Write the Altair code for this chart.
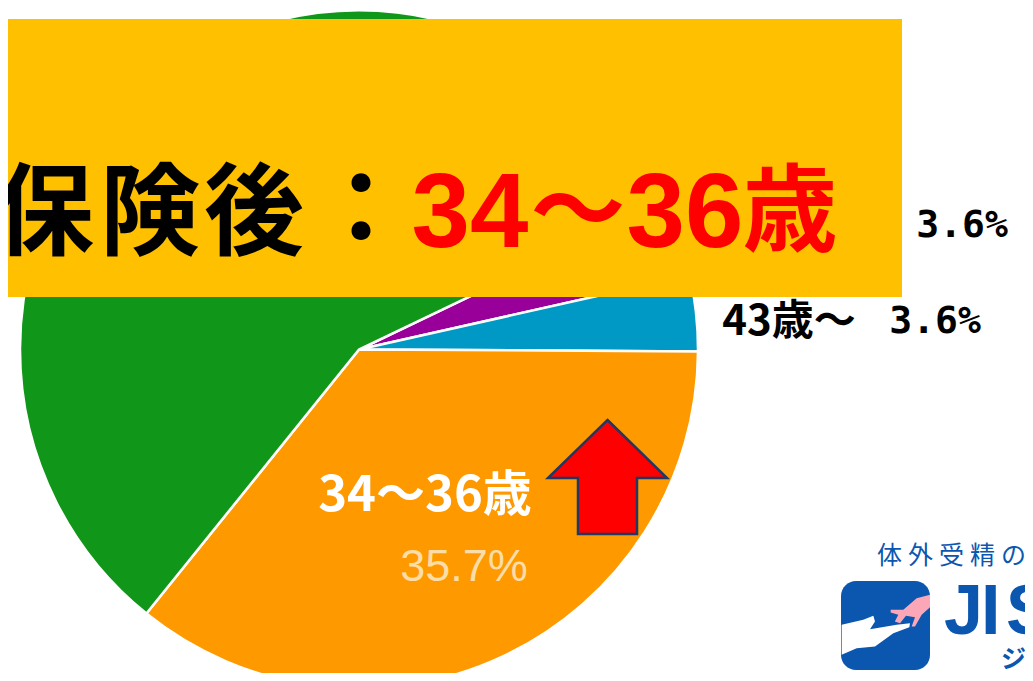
import math
import altair as alt
import pandas as pd

ages = ["39-42", "43+", "34-36", "other"]
shares = [3.6, 3.6, 35.7, 57.1]
colors = ["#990099", "#0099C6", "#FF9900", "#109618"]
order_idx = [0, 1, 2, 3]
logo_caption = ["体", "外", "受", "精", "の"]

W, H = 1017, 665
OX, OY = 8, 8  # page margin
START = 64.4 * math.pi / 180

one = pd.DataFrame({"a": [0]})


def px(v):
    return alt.value(v - OX)


def py(v):
    return alt.value(v - OY)


def txt(s, x, y, size, color, font="Noto Sans CJK JP", weight="bold", align="center"):
    return alt.Chart(one).mark_text(
        text=s, fontSize=size, color=color, font=font, fontWeight=weight,
        align=align, baseline="middle"
    ).encode(x=px(x), y=py(y))


def shape(path, x, y, size, fill, stroke=None, sw=0):
    args = dict(shape=path, size=size, fill=fill, filled=True, opacity=1, strokeWidth=sw)
    if stroke:
        args["stroke"] = stroke
    return alt.Chart(one).mark_point(**args).encode(x=px(x), y=py(y))


df = pd.DataFrame({"age": ages, "share": shares, "idx": order_idx})

pie = alt.Chart(df).mark_arc(outerRadius=339, stroke="white", strokeWidth=2.5).encode(
    theta=alt.Theta("share:Q", stack=True,
                    scale=alt.Scale(domain=[0, 100], range=[START, START + 2 * math.pi])),
    color=alt.Color("age:N", scale=alt.Scale(domain=ages, range=colors), legend=None),
    order=alt.Order("idx:Q"),
    x=px(359), y=py(349.5),
)

banner = alt.Chart(one).mark_rect(color="#FFC000").encode(
    x=px(0), x2=px(902), y=py(19), y2=py(297))

ARROW = "M0,-0.958 L1,0.017 L0.496,0.017 L0.496,0.958 L-0.496,0.958 L-0.496,0.017 L-1,0.017 Z"
WHITE = ("M-0.985,-0.015 L-0.5,-0.127 L-0.273,-0.217 L-0.236,-0.09 L-0.348,0.082 L0.25,-0.015 "
         "L0.55,-0.052 L0.536,0.037 L0.176,0.172 L-0.236,0.472 L-0.648,0.509 L-0.985,0.659 Z")
PINK = ("M1,-0.689 L0.7,-0.614 L0.4,-0.352 L0.116,-0.352 L0.116,-0.292 L0.288,-0.24 L0.21,-0.09 "
        "L0.326,-0.052 L0.46,-0.217 L0.663,-0.187 L0.588,0.022 L0.663,0.022 L0.813,-0.24 L1,-0.412 Z")
BLUE = "#0B57B0"
DIGITS = "Liberation Sans"
MONO = "DejaVu Sans Mono"

logo_box = alt.Chart(one).mark_rect(color=BLUE, cornerRadius=15).encode(
    x=px(841), x2=px(930), y=py(581), y2=py(670))

layers = [
    pie,
    banner,
    txt("保", 44, 217, 100, "black"),
    txt("険", 150, 217, 100, "black"),
    txt("後", 254, 217, 100, "black"),
    txt("：", 361, 214, 100, "black"),
    txt("34", 470, 215, 105, "#FF0000", font=DIGITS),
    txt("〜", 578, 215, 95, "#FF0000"),
    txt("36", 685, 215, 105, "#FF0000", font=DIGITS),
    txt("歳", 790, 215, 95, "#FF0000"),
    txt("3.6%", 962, 226, 38, "black", font=MONO),
    txt("43歳〜", 789, 322, 42, "black"),
    txt("3.6%", 935, 322, 38, "black", font=MONO),
    txt("34〜36歳", 425, 496, 49, "white"),
    txt("35.7%", 464, 567, 45, "#FCDDA8", font="Liberation Sans", weight="normal"),
    shape(ARROW, 607.5, 477, 14161, "#FF0000", "#1F3864", 2.5),
]
layers += [
    txt(ch, 877 + 31 * i, 556, 25, BLUE, weight="normal", align="left")
    for i, ch in enumerate(logo_caption)
]
layers += [
    logo_box,
    shape(WHITE, 885.5, 625.5, 7921, "white"),
    shape(PINK, 885.5, 625.5, 7921, "#FBA7B8"),
    txt("J", 944, 613, 70, BLUE, font="Liberation Sans", align="left"),
    txt("I", 981, 613, 70, BLUE, font="Liberation Sans", align="left"),
    txt("S", 1006, 613, 70, BLUE, font="Liberation Sans", align="left"),
    txt("ジ", 1001, 660, 25, BLUE, align="left"),
]

chart = alt.layer(*layers).properties(
    width=W, height=H, padding=0, background="white",
    autosize=alt.AutoSizeParams(type="none"),
).configure_view(stroke=None)

chart.save("out.html", embed_options={"renderer": "svg", "actions": False})
